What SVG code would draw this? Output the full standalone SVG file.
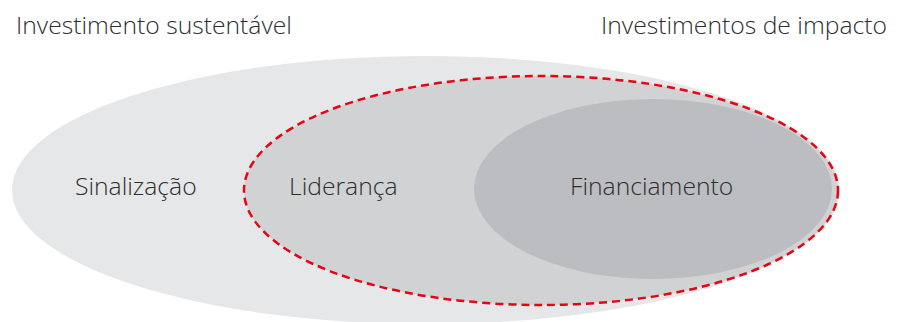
<svg xmlns="http://www.w3.org/2000/svg" width="904" height="322" viewBox="0 0 904 322">
<style>
.lbl{font-family:"Open Sans","Noto Sans","Liberation Sans",sans-serif;font-size:24.7px;font-weight:300;fill:#2e2e2e}
</style>
<rect width="904" height="322" fill="#ffffff"/>
<g id="sustentavel">
<ellipse cx="426" cy="190" rx="414" ry="134" fill="#e6e7e8"/>
<text class="lbl" x="16" y="34">Investimento sustentável</text>
<text class="lbl" x="75" y="195">Sinalização</text>
</g>
<g id="impacto">
<ellipse cx="541" cy="190.5" rx="297" ry="114.5" fill="#d1d2d4"/>
<text class="lbl" x="601" y="34">Investimentos de impacto</text>
<text class="lbl" x="289" y="195">Liderança</text>
</g>
<g id="financiamento">
<ellipse cx="653" cy="189" rx="179" ry="90" fill="#bcbdc0"/>
<text class="lbl" x="570" y="195">Financiamento</text>
</g>
<g id="connectors">
<ellipse cx="541" cy="190.5" rx="297" ry="114.5" fill="none" stroke="#e30613" stroke-width="2.5" stroke-dasharray="8 5"/>
</g>
</svg>
